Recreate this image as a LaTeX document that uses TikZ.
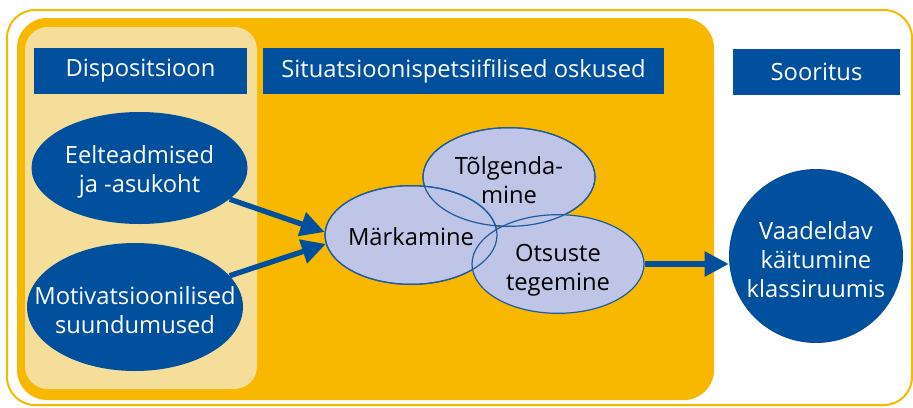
\documentclass[tikz,border=0pt]{standalone}
\usepackage{fontspec}
\setmainfont{Open Sans}
\usepackage{tikz}
\usetikzlibrary{shapes.geometric, arrows.meta, positioning, calc}
\definecolor{DarkBlue}{RGB}{0,80,158}
\definecolor{Amber}{RGB}{249,184,0}
\definecolor{PaleAmber}{RGB}{245,222,154}
\definecolor{Lilac}{RGB}{190,197,230}
\definecolor{LineBlue}{RGB}{30,90,160}
\tikzset{
  hdr/.style={fill=DarkBlue, text=white, minimum height=34.5pt, inner sep=0pt},
  dkell/.style={ellipse, fill=DarkBlue, inner sep=0pt},
  ltell/.style={ellipse, fill=Lilac, draw=LineBlue, line width=0.9pt, inner sep=0pt,
    minimum width=129pt, minimum height=74pt},
  wtxt/.style={text=white, align=center, yshift=-2.5pt},
  btxt/.style={text=black, align=center, yshift=-2.5pt},
  flow/.style={DarkBlue, line width=4pt, -{Triangle[length=18pt,width=18pt]}}
}
\begin{document}
\begin{tikzpicture}[x=0.75pt, y=-0.75pt, font=\fontsize{17.8}{21.75}\selectfont]
    \useasboundingbox (0,0) rectangle (913,407);
    % frames
    \draw [Amber, line width=1.5pt, rounded corners=21pt] (7,10) rectangle (912,405);
    \fill [Amber, rounded corners=22.5pt] (17,18) rectangle (714,400);
    \fill [PaleAmber, rounded corners=17pt] (25,27) rectangle (257,389);
    % headers
    \node [hdr, minimum width=159.75pt] (dispo) at (140.5,71) {Dispositsioon};
    \node [hdr, minimum width=300.75pt] (situ) at (463.5,71) {Situatsioonispetsiifilised oskused};
    \node [hdr, minimum width=125.25pt] (soor) at (816.5,72) {Sooritus};
    % dispositsioon
    \node [dkell, minimum width=162pt, minimum height=84pt,
        label={[wtxt]center:Eelteadmised\\ja -asukoht}] (eelt) at (139.5,168) {};
    \node [dkell, minimum width=162pt, minimum height=96pt,
        label={[wtxt]center:Motivatsioonilised\\suundumused}] (motiv) at (135,307) {};
    % oskused
    \node [ltell, label={[btxt]center:T\~olgenda-\\mine}] (tolg) at (509,177) {};
    \node [ltell, label={[btxt, yshift=1.5pt]center:M\"arkamine}] (mark) at (411,235) {};
    \node [ltell, label={[btxt, yshift=-2.5pt]center:Otsuste\\tegemine}] (otsus) at (558,264) {};
    \foreach \n in {tolg, mark}
        \draw [LineBlue, line width=0.9pt] (\n.center) ellipse [x radius=64.5pt, y radius=37pt];
    % sooritus
    \node [dkell, circle, minimum size=130.5pt,
        label={[wtxt]center:Vaadeldav\\k\"aitumine\\klassiruumis}] (vaadel) at (816,256) {};
    \draw [flow] (eelt) -- (mark.178);
    \draw [flow] (motiv) -- (mark.186);
    \draw [flow] (otsus.east) -- (vaadel.west |- otsus.east);
\end{tikzpicture}
\end{document}
